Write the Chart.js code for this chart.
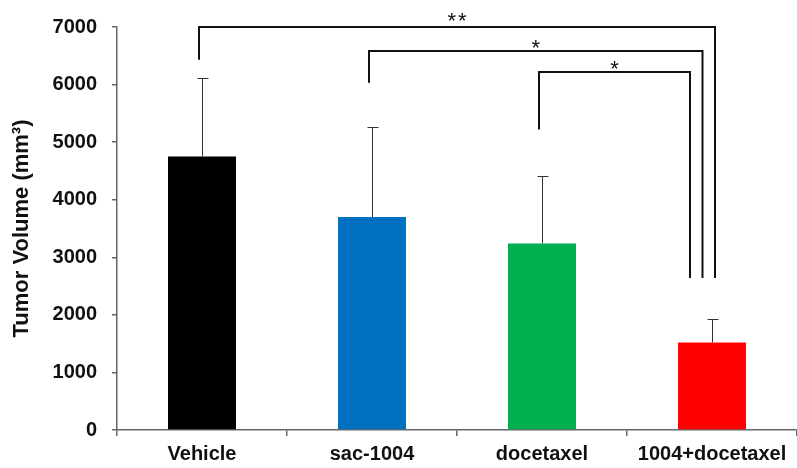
<!DOCTYPE html>
<html>
<head>
<meta charset="utf-8">
<script src="https://cdn.jsdelivr.net/npm/chart.js@4"></script>
<style>
html,body{margin:0;padding:0;background:#fff;}
#wrap{width:797px;height:468px;position:relative;}
</style>
</head>
<body>
<div id="wrap"><canvas id="c" width="797" height="468"></canvas></div>
<script>
const categories = ['Vehicle', 'sac-1004', 'docetaxel', '1004+docetaxel'];
const tumorVolume = [4750, 3700, 3240, 1520];
const errorUpper = [1370, 1570, 1180, 410];
const barColors = ['#000000', '#0070C0', '#00B050', '#FF0000'];
const yTicks = [0, 1000, 2000, 3000, 4000, 5000, 6000, 7000];
const bracketFrom = [0, 1, 2];
const bracketTo = [3, 3, 3];
const bracketTop = [7000, 6590, 6220];
const bracketLeftEnd = [6430, 6030, 5220];
const bracketRightEnd = [2640, 2640, 2640];
const bracketLabels = ['**', '*', '*'];

const FONT = '"Liberation Sans", Arial, sans-serif';

const errorBarPlugin = {
  id: 'errorBars',
  afterDatasetsDraw(chart) {
    const ctx = chart.ctx;
    const meta = chart.getDatasetMeta(0);
    const y = chart.scales.y;
    ctx.save();
    ctx.strokeStyle = '#333';
    ctx.lineWidth = 1;
    meta.data.forEach((bar, i) => {
      const x = Math.round(bar.x) + 0.5;
      const yTop = y.getPixelForValue(tumorVolume[i] + errorUpper[i]);
      const yBase = y.getPixelForValue(tumorVolume[i]);
      ctx.beginPath();
      ctx.moveTo(x, yBase);
      ctx.lineTo(x, Math.round(yTop) + 0.5);
      ctx.moveTo(x - 5, Math.round(yTop) + 0.5);
      ctx.lineTo(x + 6, Math.round(yTop) + 0.5);
      ctx.stroke();
    });
    ctx.restore();
  }
};

const bracketPlugin = {
  id: 'brackets',
  afterDraw(chart) {
    const ctx = chart.ctx;
    const xs = chart.scales.x, ys = chart.scales.y;
    ctx.save();
    ctx.strokeStyle = '#111';
    ctx.lineWidth = 2;
    ctx.fillStyle = '#111';
    ctx.font = '22px ' + FONT;
    ctx.textAlign = 'center';
    ctx.textBaseline = 'alphabetic';
    bracketFrom.forEach((f, k) => {
      const x1 = Math.round(xs.getPixelForValue(f)) - 3;
      const x2 = Math.round(xs.getPixelForValue(bracketTo[k])) + 3 - 12.5 * k;
      const yt = Math.round(ys.getPixelForValue(bracketTop[k]));
      const yl = ys.getPixelForValue(bracketLeftEnd[k]);
      const yr = ys.getPixelForValue(bracketRightEnd[k]);
      ctx.beginPath();
      ctx.moveTo(x1, yl);
      ctx.lineTo(x1, yt);
      ctx.lineTo(x2, yt);
      ctx.lineTo(x2, yr);
      ctx.stroke();
      const label = bracketLabels[k].split('').join('\u200A');
      ctx.fillText(label, (x1 + x2) / 2, yt + (k === 0 ? 1 : 4));
    });
    ctx.restore();
  }
};

new Chart(document.getElementById('c'), {
  type: 'bar',
  data: {
    labels: categories,
    datasets: [{
      data: tumorVolume,
      backgroundColor: barColors,
      borderWidth: 0,
      barPercentage: 0.4,
      categoryPercentage: 1.0
    }]
  },
  options: {
    responsive: false,
    animation: false,
    devicePixelRatio: 1,
    layout: { padding: { top: 25, right: 0, bottom: 0, left: 0 } },
    plugins: { legend: { display: false }, tooltip: { enabled: false } },
    scales: {
      x: {
        offset: true,
        grid: { display: true, drawOnChartArea: false, offset: true, tickLength: 6, color: '#666', lineWidth: 1.5 },
        border: { display: true, color: '#666', width: 1.5 },
        ticks: { color: '#111', font: { family: FONT, size: 20, weight: 'bold' }, padding: 6, maxRotation: 0 },
        afterFit(scale) { scale.height = 38; }
      },
      y: {
        min: 0, max: 7000,
        afterBuildTicks(scale) { scale.ticks = yTicks.map(v => ({ value: v })); },
        grid: { display: true, drawOnChartArea: false, tickLength: 5, color: '#666', lineWidth: 1.5 },
        border: { display: true, color: '#666', width: 1.5 },
        ticks: { color: '#111', font: { family: FONT, size: 20, weight: 'bold' }, padding: 15, callback: v => String(v) },
        title: { display: true, text: 'Tumor Volume (mm³)', color: '#111', font: { family: FONT, size: 22, weight: 'bold' }, padding: { top: 9, bottom: 0 } },
        afterFit(scale) { scale.width = 117; }
      }
    }
  },
  plugins: [errorBarPlugin, bracketPlugin]
});
</script>
</body>
</html>
